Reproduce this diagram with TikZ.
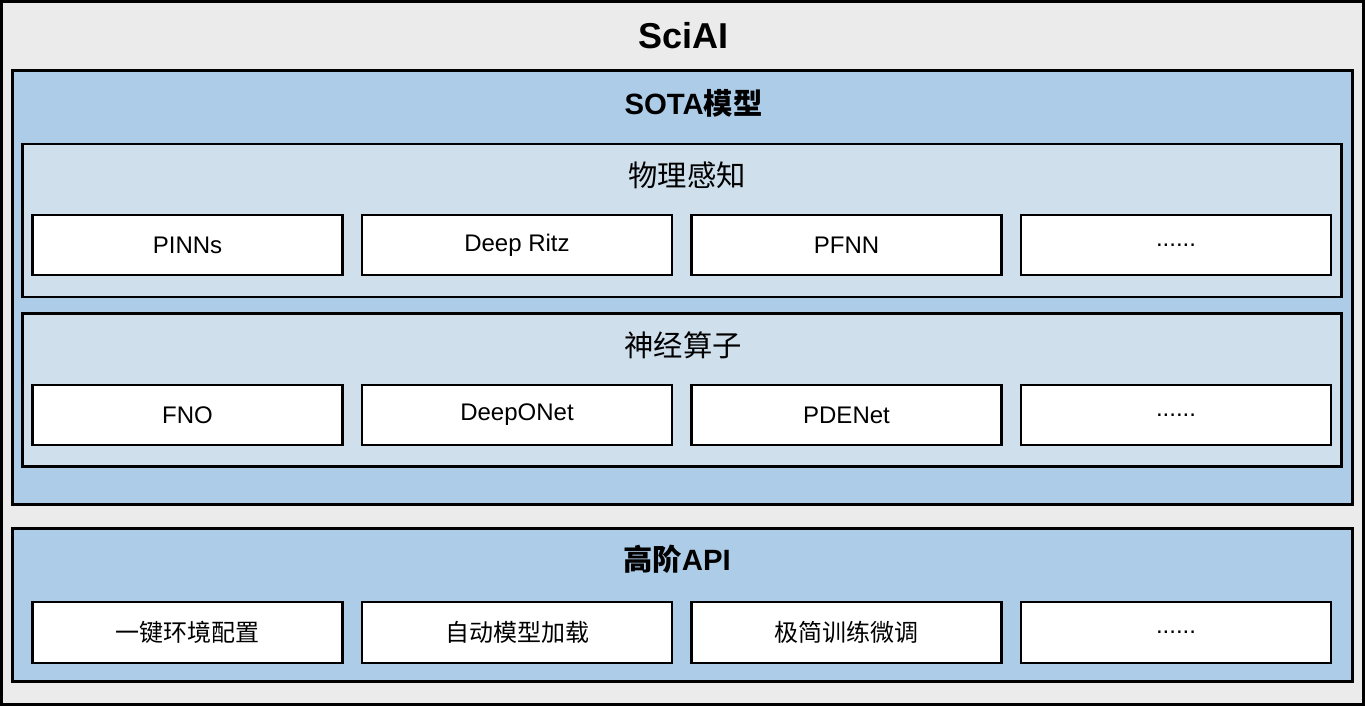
\documentclass[tikz,border=0pt]{standalone}
\usepackage{fontspec}
\setmainfont{Liberation Sans}
\newfontfamily\cjk{Noto Sans CJK SC}
\definecolor{outerbg}{HTML}{EBEBEB}
\definecolor{layerbg}{HTML}{ADCCE8}
\definecolor{groupbg}{HTML}{CFDFEC}
\begin{document}
\begin{tikzpicture}[x=0.75pt, y=-0.75pt, node distance=247.125pt,
    layer node/.style={draw, line width=2.25pt, fill=layerbg, minimum width=1005pt, inner sep=0},
    group node/.style={draw, line width=1.8pt, fill=groupbg, minimum width=989.25pt, minimum height=114.5pt, inner sep=0},
    item node/.style={draw, line width=1.6pt, fill=white, minimum width=232.5pt, minimum height=44.5pt, inner sep=0},
    title node/.style={font=\fontsize{22}{26}\selectfont\bfseries}]
            \tikzstyle{every node}=[font=\fontsize{18}{22}\selectfont]
            \useasboundingbox (0,0) rectangle (1365,706);

              \node[draw, line width=2.25pt, fill=outerbg, minimum width=1021.5pt, minimum height=527.25pt, inner sep=0] (sciai) at (682.5,353) {};
              \node[font=\fontsize{27}{30}\selectfont\bfseries] (t0) at (683.5,36) {SciAI};

              % SOTA layer
              \node[layer node, minimum height=324.75pt] (sota) at (682,287.5) {};
              \node[title node] (t1) at (693.5,103) {SOTA{\cjk 模型}};

              \node[group node] (phys) at (682,220.5) {};
              \node[font=\fontsize{22}{26}\selectfont\cjk] (t2) at (687,175) {物理感知};
              \node[item node] (p1) at (187.5,245) {PINNs};
              \node[item node] (p2) [right of=p1] {Deep Ritz};
              \node[item node] (p3) [right of=p2] {PFNN};
              \node[item node] (p4) [right of=p3] {......};

              \node[group node] (oper) at (682,390) {};
              \node[font=\fontsize{22}{26}\selectfont\cjk] (t3) at (683,345) {神经算子};
              \node[item node] (o1) at (187.5,415) {FNO};
              \node[item node] (o2) [right of=o1] {DeepONet};
              \node[item node] (o3) [right of=o2] {PDENet};
              \node[item node] (o4) [right of=o3] {......};

              % API layer
              \node[layer node, minimum height=114.75pt] (api) at (682,604.5) {};
              \node[title node] (t4) at (677,559) {{\cjk 高阶}API};
              \node[item node, minimum height=45.5pt] (a1) at (187.5,632.5) {\cjk 一键环境配置};
              \node[item node, minimum height=45.5pt] (a2) [right of=a1] {\cjk 自动模型加载};
              \node[item node, minimum height=45.5pt] (a3) [right of=a2] {\cjk 极简训练微调};
              \node[item node, minimum height=45.5pt] (a4) [right of=a3] {......};

            \end{tikzpicture}
\end{document}
